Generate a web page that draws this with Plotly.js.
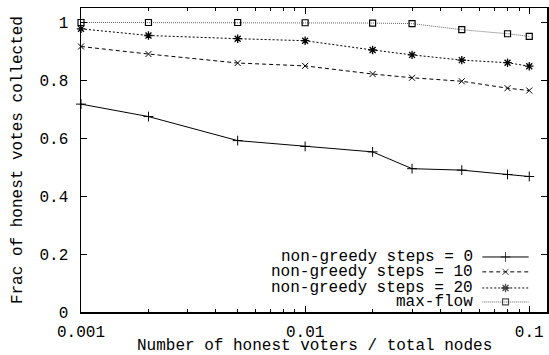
<!DOCTYPE html>
<html>
<head>
<meta charset="utf-8">
<script src="https://cdn.plot.ly/plotly-3.0.1.min.js"></script>
<style>html,body{margin:0;padding:0;background:#fff;}#chart{width:549px;height:355px;}</style>
</head>
<body>
<div id="chart"></div>
<script>
const xValues = [0.001, 0.002, 0.005, 0.01, 0.02, 0.03, 0.05, 0.08, 0.1];
const steps0  = [0.718, 0.675, 0.592, 0.572, 0.553, 0.495, 0.490, 0.475, 0.468];
const steps10 = [0.917, 0.891, 0.860, 0.850, 0.822, 0.809, 0.797, 0.773, 0.765];
const steps20 = [0.978, 0.955, 0.944, 0.937, 0.905, 0.888, 0.870, 0.861, 0.849];
const maxFlow = [1.000, 1.000, 1.000, 0.999, 0.998, 0.996, 0.975, 0.961, 0.952];
const seriesNames = ["non-greedy steps = 0", "non-greedy steps = 10", "non-greedy steps = 20", "max-flow"];
const yTickVals = [0, 0.2, 0.4, 0.6, 0.8, 1];
const yTickText = ["0", "0.2", "0.4", "0.6", "0.8", "1"];
const xTickVals = [0.001, 0.01, 0.1];
const xTickText = ["0.001", "0.01", "0.1"];
const xMinorVals = [0.002,0.003,0.004,0.005,0.006,0.007,0.008,0.009,0.02,0.03,0.04,0.05,0.06,0.07,0.08,0.09];
const xTitle = "Number of honest voters / total nodes";
const yTitle = "Frac of honest votes collected";

const FONT = "'Liberation Mono', 'Courier New', monospace";
const styles = [
  {line:{color:"#000", width:1, dash:"solid"}, marker:{symbol:"cross-thin-open", size:7, color:"#000", line:{width:1, color:"#000"}}},
  {line:{color:"#000", width:1, dash:"4px,3px"}, marker:{symbol:"x-thin-open", size:6, color:"#000", line:{width:1, color:"#000"}}},
  {line:{color:"#000", width:1, dash:"2px,2px"}, marker:{symbol:"asterisk-open", size:7, color:"#000", line:{width:1.3, color:"#000"}}},
  {line:{color:"#666", width:1, dash:"1px,1px"}, marker:{symbol:"square-open", size:6, color:"#000", line:{width:1.2, color:"#000"}}}
];
const allSeries = [steps0, steps10, steps20, maxFlow];

const traces = allSeries.map((ys, i) => ({
  x: xValues, y: ys, type: "scatter", mode: "lines+markers",
  name: seriesNames[i], line: styles[i].line, marker: styles[i].marker,
  showlegend: false, xaxis: "x", yaxis: "y", cliponaxis: false
}));

// legend samples drawn on an overlay axis (paper-like units)
const legY = [0.181, 0.132, 0.079, 0.033];
const annotations = [];
allSeries.forEach((ys, i) => {
  traces.push({
    x: [0, 0.5, 1], y: [legY[i], legY[i], legY[i]], type: "scatter", mode: "lines+markers",
    line: styles[i].line,
    marker: Object.assign({}, styles[i].marker, {size: [0, styles[i].marker.size, 0]}),
    xaxis: "x2", yaxis: "y2", showlegend: false, hoverinfo: "skip"
  });
  annotations.push({
    xref: "paper", yref: "paper", x: 0.846, y: legY[i], xanchor: "right", yanchor: "middle",
    text: seriesNames[i], showarrow: false, font: {family: FONT, size: 16, color: "#000"}
  });
});
annotations.push({
  xref: "paper", yref: "paper", x: 0.5, y: -0.112, xanchor: "center", yanchor: "middle",
  text: xTitle, showarrow: false, font: {family: FONT, size: 16, color: "#000"}
});
annotations.push({
  xref: "paper", yref: "paper", x: -0.135, y: 0.5, xanchor: "center", yanchor: "middle",
  text: yTitle, textangle: -90, showarrow: false, font: {family: FONT, size: 16, color: "#000"}
});

const layout = {
  width: 549, height: 355,
  margin: {l: 81, r: 2, t: 8, b: 43},
  paper_bgcolor: "#fff", plot_bgcolor: "rgba(0,0,0,0)",
  font: {family: FONT, size: 16, color: "#000"},
  showlegend: false,
  xaxis: {
    type: "log", range: [Math.log10(0.001), Math.log10(0.12)],
    tickmode: "array", tickvals: xTickVals, ticktext: xTickText,
    ticks: "inside", ticklen: 6, tickwidth: 1, tickcolor: "#000",
    minor: {tickmode: "array", tickvals: xMinorVals, ticks: "inside", ticklen: 3, tickwidth: 1, tickcolor: "#000", showgrid: false},
    showline: true, linecolor: "#000", linewidth: 1.5, mirror: "allticks",
    showgrid: false, zeroline: false, ticklabelstandoff: 4,
    tickfont: {family: FONT, size: 16}
  },
  yaxis: {
    range: [0, 1.05],
    tickmode: "array", tickvals: yTickVals, ticktext: yTickText,
    ticks: "inside", ticklen: 6, tickwidth: 1, tickcolor: "#000",
    showline: true, linecolor: "#000", linewidth: 1.5, mirror: "allticks",
    showgrid: false, zeroline: false, ticklabelstandoff: 8,
    tickfont: {family: FONT, size: 16}
  },
  xaxis2: {domain: [0.861, 0.961], range: [0, 1], visible: false, fixedrange: true, anchor: "y2"},
  yaxis2: {domain: [0, 0.21], range: [0, 0.21], visible: false, fixedrange: true, anchor: "x2"},
  annotations: annotations
};

Plotly.newPlot("chart", traces, layout, {displayModeBar: false, staticPlot: true});
</script>
</body>
</html>
